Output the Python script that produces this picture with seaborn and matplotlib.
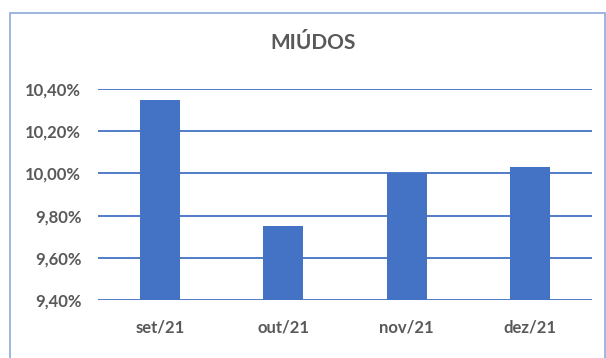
import matplotlib
matplotlib.use("Agg")
import matplotlib.pyplot as plt
from matplotlib.ticker import FuncFormatter, MultipleLocator
from matplotlib.patches import Rectangle
import seaborn as sns
import pandas as pd

months = ["set/21", "out/21", "nov/21", "dez/21"]
share_pct = [10.35, 9.75, 10.00, 10.03]
title = "MIÚDOS"

sns.set_theme(style="white")
plt.rcParams["font.family"] = ["Lato", "DejaVu Sans"]

bar_color = "#4472C4"
grid_color = "#4472C4"
text_color = "#595959"

df = pd.DataFrame({"mes": months, "pct": share_pct})

fig = plt.figure(figsize=(6.06, 3.58), dpi=100)
W, H = 606, 358
ax = fig.add_axes([98 / W, (H - 300) / H, (592 - 98) / W, (300 - 89) / H])

sns.barplot(data=df, x="mes", y="pct", order=months, color=bar_color,
            saturation=1, width=0.32, linewidth=0, edgecolor="none",
            ax=ax, zorder=3)

ax.set_ylim(9.40, 10.40)
ax.set_xlim(-0.5, len(months) - 0.5)
ax.yaxis.set_major_locator(MultipleLocator(0.2))
ax.yaxis.set_major_formatter(
    FuncFormatter(lambda v, _: f"{v:.2f}%".replace(".", ",")))
ax.grid(axis="y", color=grid_color, linewidth=1.3, zorder=0)
ax.set_axisbelow(True)
for s in ax.spines.values():
    s.set_visible(False)
ax.tick_params(axis="y", length=0, pad=12, labelsize=12,
               labelcolor=text_color)
ax.tick_params(axis="x", length=0, pad=14, labelsize=12,
               labelcolor=text_color)
for lbl in ax.get_xticklabels() + ax.get_yticklabels():
    lbl.set_fontweight("bold")
ax.set_xlabel("")
ax.set_ylabel("")

fig.text(313 / W, 1 - 43 / H, title, ha="center", va="center",
         fontsize=15, fontweight="bold", color=text_color)

# outer chart frame
fig.patches.append(Rectangle((10 / W, -0.05), (605 - 10) / W, 1.05 - 13 / H,
                             transform=fig.transFigure, fill=False,
                             edgecolor="#8EA9DB", linewidth=1.2))

fig.savefig("out.png", dpi=100)
